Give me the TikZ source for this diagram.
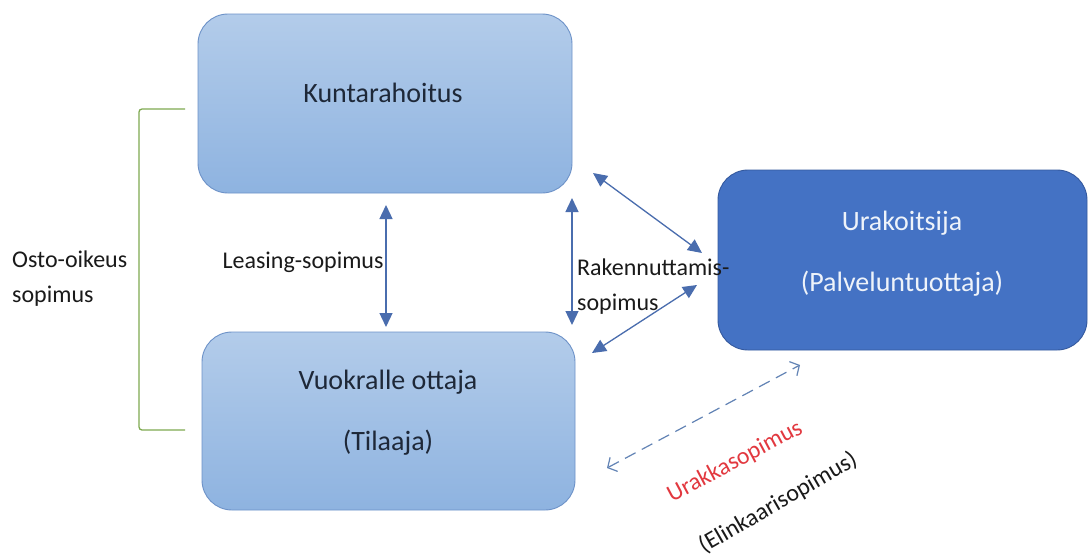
\documentclass[tikz,border=0pt]{standalone}
\usepackage{fontspec}
\setmainfont{Carlito}
\usetikzlibrary{arrows.meta,calc}
\definecolor{lbtop}{HTML}{B3CCEA}
\definecolor{lbbot}{HTML}{8EB3E0}
\definecolor{lbdraw}{HTML}{6D92C8}
\definecolor{dbfill}{HTML}{4472C4}
\definecolor{dbdraw}{HTML}{34599E}
\definecolor{arr}{HTML}{4A6DAE}
\definecolor{dash}{HTML}{6283B5}
\definecolor{brk}{HTML}{7FAA50}
\definecolor{boxtxt}{HTML}{1E2838}
\definecolor{lbltxt}{HTML}{1A1A1A}
\definecolor{redtxt}{HTML}{E2383F}
\definecolor{whtxt}{HTML}{EEF3FA}
\tikzset{
  lightbox/.style={draw=lbdraw, line width=0.9pt, rounded corners=30pt, top color=lbtop, bottom color=lbbot, inner sep=0pt},
  darkbox/.style={draw=dbdraw, line width=0.9pt, rounded corners=30pt, fill=dbfill, inner sep=0pt},
  boxtext/.style={font=\fontsize{28}{61}\selectfont, align=center, inner sep=0pt},
  lbl/.style={font=\fontsize{24}{35}\selectfont, text=lbltxt, inner sep=0pt},
  solidarrow/.style={draw=arr, line width=1.3pt, {Triangle[length=14pt,width=13pt]}-{Triangle[length=14pt,width=13pt]}, fill=dbfill},
  dasharrow/.style={draw=dash, line width=1.2pt, dash pattern=on 12pt off 7pt, {Straight Barb[length=7pt,width=16pt]}-{Straight Barb[length=7pt,width=16pt]}},
}
\begin{document}
\begin{tikzpicture}[x=1pt,y=-1pt]
\useasboundingbox (0,0) rectangle (1089,557);
\fill[white] (0,0) rectangle (1089,557);
% boxes
\node[lightbox, minimum width=374pt, minimum height=179pt] (kunta) at (385,103.5) {};
\node[lightbox, minimum width=373pt, minimum height=178pt] (tilaaja) at (388.5,421) {};
\node[darkbox, minimum width=369pt, minimum height=180pt] (urak) at (902.5,260) {};
% box texts
\node[boxtext, text=boxtxt] (kuntat) at (383,93) {Kuntarahoitus};
\node[boxtext, text=boxtxt] (tilaajat) at (388,413) {Vuokralle ottaja\\(Tilaaja)};
\node[boxtext, text=whtxt] (urakt) at (902,254) {Urakoitsija\\(Palveluntuottaja)};
% arrow endpoints
\coordinate (la) at (386,205);
\coordinate (lb) at (386,327);
\coordinate (ra) at (572,198);
\coordinate (rb) at (572,325);
\coordinate (da) at (593,173);
\coordinate (db) at (702,253);
\coordinate (ea) at (697,285);
\coordinate (eb) at (592,353);
\coordinate (fa) at (607,468);
\coordinate (fb) at (800,365);
\draw[solidarrow] (la) -- (lb);
\draw[solidarrow] (ra) -- (rb);
\draw[solidarrow] (da) -- (db);
\draw[solidarrow] (ea) -- (eb);
\draw[dasharrow] (fa) -- (fb);
% bracket
\coordinate (ba) at (185,109);
\coordinate (bb) at (185,430);
\draw[brk, line width=1.3pt, rounded corners=3pt] (ba) -- (139,109) -- (139,430) -- (bb);
% labels
\node[lbl, anchor=west, align=left] (osto) at (12,279) {Osto-oikeus\\sopimus};
\node[lbl, anchor=center] (leasing) at (303,262) {Leasing-sopimus};
\node[lbl, anchor=west, align=left] (raken) at (577,287) {Rakennuttamis-\\sopimus};
\node[lbl, text=redtxt, rotate=28] (urakka) at (735,462) {Urakkasopimus};
\node[lbl, rotate=30] (elin) at (778,503) {(Elinkaarisopimus)};
\end{tikzpicture}
\end{document}
